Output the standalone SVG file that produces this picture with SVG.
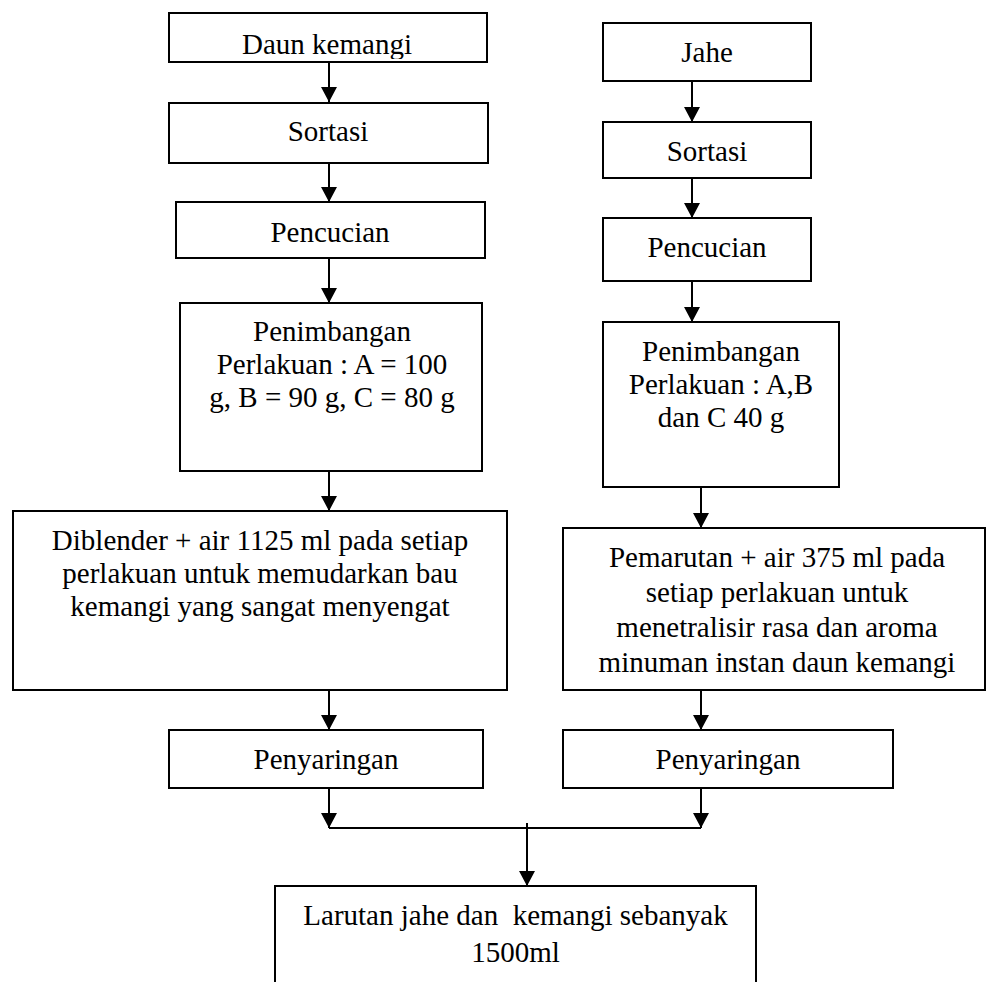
<svg xmlns="http://www.w3.org/2000/svg" width="987" height="982" viewBox="0 0 987 982">
<style>
.box{fill:#fff;stroke:#000;stroke-width:2}
.t{font-family:"Liberation Serif","Times New Roman",serif;font-size:29px;fill:#000;text-anchor:middle;white-space:pre}
.c{fill:none;stroke:#000;stroke-width:2}
</style>
<defs>
<marker id="ah" markerUnits="userSpaceOnUse" markerWidth="16" markerHeight="16" refX="15" refY="8" orient="auto">
<path d="M0,0 L15,8 L0,16 Z" fill="#000"/>
</marker>
<clipPath id="clipDaun"><rect x="169" y="14" width="317" height="45"/></clipPath>
</defs>
<rect width="987" height="982" fill="#fff"/>
<g id="connectors">
<line class="c" x1="329" y1="62" x2="329" y2="102" marker-end="url(#ah)"/>
<line class="c" x1="329" y1="163" x2="329" y2="202" marker-end="url(#ah)"/>
<line class="c" x1="329" y1="258" x2="329" y2="303" marker-end="url(#ah)"/>
<line class="c" x1="329" y1="471" x2="329" y2="511" marker-end="url(#ah)"/>
<line class="c" x1="329" y1="690" x2="329" y2="730" marker-end="url(#ah)"/>
<line class="c" x1="329" y1="788" x2="329" y2="828" marker-end="url(#ah)"/>
<line class="c" x1="692" y1="81" x2="692" y2="122" marker-end="url(#ah)"/>
<line class="c" x1="692" y1="178" x2="692" y2="218" marker-end="url(#ah)"/>
<line class="c" x1="692" y1="281" x2="692" y2="322" marker-end="url(#ah)"/>
<line class="c" x1="701" y1="487" x2="701" y2="528" marker-end="url(#ah)"/>
<line class="c" x1="701" y1="690" x2="701" y2="730" marker-end="url(#ah)"/>
<line class="c" x1="701" y1="788" x2="701" y2="828" marker-end="url(#ah)"/>
<line class="c" x1="329" y1="828" x2="701" y2="828"/>
<line class="c" x1="527" y1="823" x2="527" y2="886" marker-end="url(#ah)"/>
</g>
<g id="daun-kemangi">
<rect class="box" x="169" y="13" width="318" height="49"/>
<text class="t" x="327" y="54" clip-path="url(#clipDaun)">Daun kemangi</text>
</g>
<g id="sortasi-left">
<rect class="box" x="169" y="103" width="319" height="60"/>
<text class="t" x="328" y="141">Sortasi</text>
</g>
<g id="pencucian-left">
<rect class="box" x="176" y="202" width="309" height="56"/>
<text class="t" x="330" y="242">Pencucian</text>
</g>
<g id="penimbangan-left">
<rect class="box" x="180" y="303" width="302" height="168"/>
<text class="t" x="332" y="341">Penimbangan</text>
<text class="t" x="332" y="374">Perlakuan : A = 100</text>
<text class="t" x="332" y="407">g, B = 90 g, C = 80 g</text>
</g>
<g id="diblender">
<rect class="box" x="13" y="511" width="494" height="179"/>
<text class="t" x="260" y="550">Diblender + air 1125 ml pada setiap</text>
<text class="t" x="260" y="583">perlakuan untuk memudarkan bau</text>
<text class="t" x="260" y="616">kemangi yang sangat menyengat</text>
</g>
<g id="penyaringan-left">
<rect class="box" x="169" y="730" width="314" height="58"/>
<text class="t" x="326" y="769">Penyaringan</text>
</g>
<g id="jahe">
<rect class="box" x="603" y="23" width="208" height="58"/>
<text class="t" x="707" y="62">Jahe</text>
</g>
<g id="sortasi-right">
<rect class="box" x="603" y="122" width="208" height="56"/>
<text class="t" x="707" y="161">Sortasi</text>
</g>
<g id="pencucian-right">
<rect class="box" x="603" y="218" width="208" height="63"/>
<text class="t" x="707" y="257">Pencucian</text>
</g>
<g id="penimbangan-right">
<rect class="box" x="603" y="322" width="236" height="165"/>
<text class="t" x="721" y="361">Penimbangan</text>
<text class="t" x="721" y="394">Perlakuan : A,B</text>
<text class="t" x="721" y="427">dan C 40 g</text>
</g>
<g id="pemarutan">
<rect class="box" x="563" y="528" width="422" height="162"/>
<text class="t" x="777" y="567">Pemarutan + air 375 ml pada</text>
<text class="t" x="777" y="602">setiap perlakuan untuk</text>
<text class="t" x="777" y="637">menetralisir rasa dan aroma</text>
<text class="t" x="777" y="672">minuman instan daun kemangi</text>
</g>
<g id="penyaringan-right">
<rect class="box" x="563" y="730" width="330" height="58"/>
<text class="t" x="728" y="769">Penyaringan</text>
</g>
<g id="larutan">
<rect class="box" x="275" y="886" width="481" height="110"/>
<text class="t" x="515.5" y="925">Larutan jahe dan  kemangi sebanyak</text>
<text class="t" x="515.5" y="962">1500ml</text>
</g>
</svg>
